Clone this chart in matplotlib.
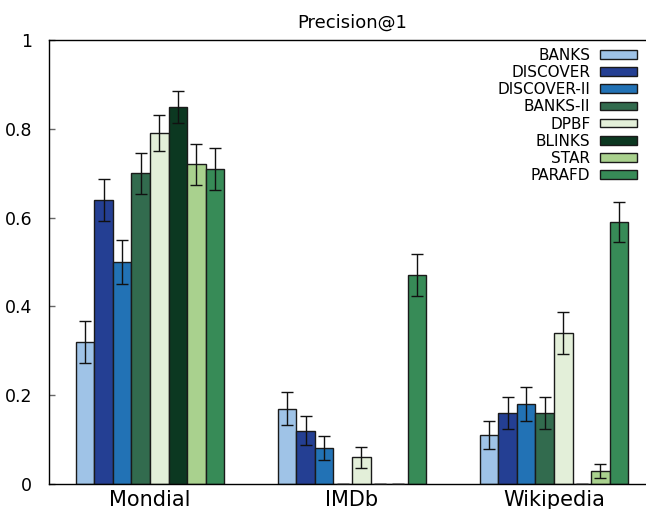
import matplotlib
matplotlib.use("Agg")
import matplotlib.pyplot as plt
import numpy as np

datasets = ["Mondial", "IMDb", "Wikipedia"]
methods = ["BANKS", "DISCOVER", "DISCOVER-II", "BANKS-II", "DPBF", "BLINKS", "STAR", "PARAFD"]
colors = ["#9fc3e7", "#243f93", "#2272b5", "#326b4e", "#e3efd9", "#0c3821", "#a9d18e", "#378b57"]

# values per method across [Mondial, IMDb, Wikipedia]
banks      = [0.32, 0.17, 0.11]
discover   = [0.64, 0.12, 0.16]
discover2  = [0.50, 0.08, 0.18]
banks2     = [0.70, 0.00, 0.16]
dpbf       = [0.79, 0.06, 0.34]
blinks     = [0.85, 0.00, 0.00]
star       = [0.72, 0.00, 0.03]
parafd     = [0.71, 0.47, 0.59]

banks_err     = [0.047, 0.037, 0.031]
discover_err  = [0.048, 0.033, 0.036]
discover2_err = [0.050, 0.027, 0.039]
banks2_err    = [0.046, 0.000, 0.036]
dpbf_err      = [0.040, 0.024, 0.047]
blinks_err    = [0.036, 0.000, 0.000]
star_err      = [0.046, 0.000, 0.016]
parafd_err    = [0.047, 0.047, 0.046]

values = [banks, discover, discover2, banks2, dpbf, blinks, star, parafd]
errors = [banks_err, discover_err, discover2_err, banks2_err, dpbf_err, blinks_err, star_err, parafd_err]

fig = plt.figure(figsize=(6.46, 5.09), dpi=100)
ax = fig.add_axes([49/646, 25/509, 606/646, 444/509])

x = np.arange(len(datasets))
n = len(methods)
w = 0.0916
for i, (m, v, e, c) in enumerate(zip(methods, values, errors, colors)):
    pos = x + (i - (n - 1) / 2) * w
    ax.bar(pos, v, width=w, color=c, edgecolor="#1a1a1a", linewidth=1.0, label=m, zorder=2)
    ax.errorbar(pos, v, yerr=e, fmt="none", ecolor="#111111", elinewidth=1.0,
                capsize=4, capthick=1.0, zorder=3)

ax.set_xlim(-0.5, 2.5)
ax.set_ylim(0, 1)
ax.set_yticks([0, 0.2, 0.4, 0.6, 0.8, 1.0])
ax.set_yticklabels(["0", "0.2", "0.4", "0.6", "0.8", "1"], fontsize=12.5)
ax.set_xticks(x)
ax.set_xticklabels(datasets, fontsize=15)
ax.tick_params(axis="y", direction="in", length=4, width=1, color="#666666", pad=12)
ax.tick_params(axis="x", length=0, pad=4)
ax.spines["right"].set_visible(False)
for s in ["top", "left", "bottom"]:
    ax.spines[s].set_linewidth(1.0)
ax.set_title("Precision@1", fontsize=13, pad=9)

leg = ax.legend(loc="upper right", bbox_to_anchor=(637/646, 1 - 48/509),
                bbox_transform=fig.transFigure, frameon=False, markerfirst=False,
                fontsize=11, handlelength=2.4, handleheight=0.5, labelspacing=0.14,
                handletextpad=0.65, borderpad=0, borderaxespad=0)

fig.savefig("out.png", dpi=100)
